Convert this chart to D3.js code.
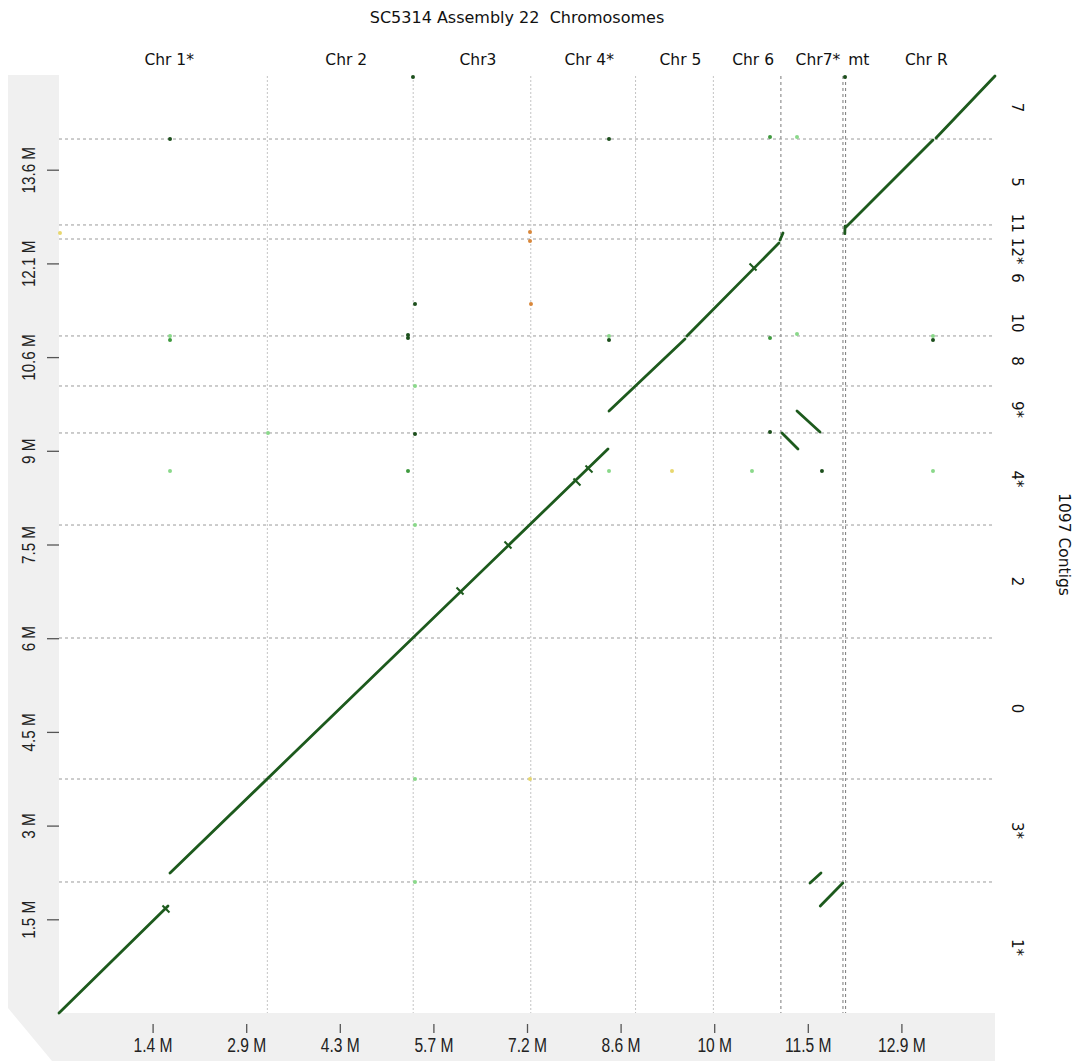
<!DOCTYPE html>
<html><head><meta charset="utf-8">
<script src="https://cdn.jsdelivr.net/npm/d3@7"></script>
<style>body{margin:0;background:#fff}svg{display:block}</style>
</head><body><svg id="c" width="1082" height="1061"></svg>
<script>
// ---------- data ----------
const title = "SC5314 Assembly 22  Chromosomes";
const yTitle = "1097 Contigs";
const chromNames = ["Chr 1*","Chr 2","Chr3","Chr 4*","Chr 5","Chr 6","Chr7*","mt","Chr R"];
const chromLengthsMb = [3.1885,2.2320,1.7994,1.6034,1.1909,1.0335,0.9496,0.0404,2.2864];
const xTickLabels = ["1.4 M","2.9 M","4.3 M","5.7 M","7.2 M","8.6 M","10 M","11.5 M","12.9 M"];
const yTickLabels = ["1.5 M","3 M","4.5 M","6 M","7.5 M","9 M","10.6 M","12.1 M","13.6 M"];
const contigNames = ["1*","3*","0","2","4*","9*","8","10","6","12*","11","5","7"];
const contigLengthsMb = [2.108,1.657,2.269,1.818,1.481,0.756,0.805,0.418,1.030,0.112,0.226,1.383,1.014];
const contigDividersMb = [2.108,3.765,6.034,7.852,9.333,10.089,10.894,12.454,12.680,14.063];
// alignments: [chromStart, contigStart, chromEnd, contigEnd] in Mb
const alignments = [
  [0.000, 0.000, 1.668, 1.722],
  [11.650, 1.722, 11.995, 2.092],
  [11.493, 2.092, 11.661, 2.253],
  [1.699, 2.253, 8.401, 9.075],
  [11.064, 9.333, 11.309, 9.075],
  [11.294, 9.687, 11.646, 9.349],
  [8.417, 9.687, 9.580, 10.845],
  [9.610, 10.893, 11.018, 12.390],
  [11.034, 12.438, 11.080, 12.551],
  [12.025, 12.540, 12.030, 12.660],
  [12.044, 12.648, 13.375, 14.047],
  [13.421, 14.079, 14.324, 15.077]
];
const breakMarks = [[1.637,1.673],[6.137,6.790],[6.871,7.531],[7.927,8.544],[8.111,8.753],[10.621,12.004]];
const dotChromMb  = [1.699,8.417,10.881,11.294,5.417,12.029,0.015,7.208,7.208,5.448,7.223,1.699,1.699,5.341,5.341,8.417,8.417,10.881,11.294,13.375,13.375,5.448,5.448,3.198,10.881,11.676,1.699,5.341,8.417,9.381,10.605,13.375,5.448,5.448,7.208,5.448];
const dotContigMb = [14.063,14.063,14.096,14.096,15.061,15.061,12.551,12.567,12.422,11.408,11.408,10.894,10.829,10.86,10.91,10.894,10.829,10.861,10.926,10.894,10.829,10.089,9.317,9.333,9.349,8.721,8.721,8.721,8.721,8.721,8.721,8.721,7.852,3.765,3.765,2.108];
const dotClass    = ["dark","dark","mid","light","dark","dark","yellow","orange","orange","dark","orange","light","mid","dark","dark","light","dark","mid","light","light","dark","light","dark","light","dark","dark","light","mid","light","yellow","light","light","light","light","yellow","light"];

// ---------- layout ----------
const L = 59, R = 995, T = 76, B = 1013;
const svg = d3.select("#c");
const xTotal = d3.sum(chromLengthsMb);
const yTotal = d3.sum(contigLengthsMb);
const x = d3.scaleLinear().domain([0, xTotal]).range([L, R]);
const y = d3.scaleLinear().domain([0, yTotal]).range([B, T]);
const dotColor = d3.scaleOrdinal().domain(["dark","mid","light","yellow","orange"])
  .range(["#1c4f1c","#3f9a3f","#8ad88a","#e8d76e","#d9873a"]);
const sansFont = "'DejaVu Sans', Verdana, sans-serif";
const narrowFont = "'Liberation Sans', Arial, sans-serif";

// gray frame
svg.append("polygon")
  .attr("points", [[8,75],[L,75],[L,B],[R,B],[R,1061],[52,1061],[8,1008]].map(p=>p.join(",")).join(" "))
  .attr("fill", "#f0f0f0");
svg.append("rect").attr("x", L).attr("y", T).attr("width", R-L).attr("height", B-T).attr("fill", "#fff");

// chromosome boundaries
const chromEnds = d3.cumsum(chromLengthsMb);
const chromStarts = [0, ...chromEnds.slice(0, -1)];
chromEnds.slice(0, -1).forEach((e, i) => {
  const dark = i >= 5;
  svg.append("line")
    .attr("x1", x(e)).attr("x2", x(e)).attr("y1", T).attr("y2", B)
    .attr("stroke", dark ? "#7a7a7a" : "#c4c4c4")
    .attr("stroke-width", 1)
    .attr("stroke-dasharray", dark ? "3,3" : "2,2");
});
// contig boundaries
contigDividersMb.forEach(v => {
  svg.append("line")
    .attr("x1", L).attr("x2", R).attr("y1", y(v)).attr("y2", y(v))
    .attr("stroke", "#9a9a9a").attr("stroke-width", 1).attr("stroke-dasharray", "3,3");
});

// dots
svg.append("g").selectAll("circle").data(dotChromMb.map((d, i) => [d, dotContigMb[i], dotClass[i]]))
  .join("circle")
  .attr("cx", d => x(d[0])).attr("cy", d => y(d[1])).attr("r", 2)
  .attr("fill", d => dotColor(d[2]));

// alignments
svg.append("g").selectAll("line").data(alignments).join("line")
  .attr("x1", d => x(d[0])).attr("y1", d => y(d[1]))
  .attr("x2", d => x(d[2])).attr("y2", d => y(d[3]))
  .attr("stroke", "#1d5a1d").attr("stroke-width", 2.8).attr("stroke-linecap", "round");
svg.append("g").selectAll("line").data(breakMarks).join("line")
  .attr("x1", d => x(d[0]) - 3.5).attr("y1", d => y(d[1]) - 3.5)
  .attr("x2", d => x(d[0]) + 3.5).attr("y2", d => y(d[1]) + 3.5)
  .attr("stroke", "#1d5a1d").attr("stroke-width", 2);

// x axis
const xTicks = xTickLabels.map((_, i) => xTotal * (i + 1) / 10);
const gx = svg.append("g").attr("transform", `translate(0,${B + 11})`)
  .call(d3.axisBottom(x).tickValues(xTicks).tickFormat((d, i) => xTickLabels[i]).tickSize(9).tickPadding(5));
gx.select(".domain").remove();
gx.selectAll(".tick line").attr("stroke", "#555").attr("stroke-width", 1.3);
gx.selectAll(".tick text").attr("font-family", narrowFont).attr("font-size", 19.5).attr("fill", "#222")
  .attr("transform", "scale(0.8,1)");

// y axis
const yTicks = yTickLabels.map((_, i) => yTotal * (i + 1) / 10);
const gy = svg.append("g").attr("transform", `translate(${L},0)`)
  .call(d3.axisLeft(y).tickValues(yTicks).tickFormat((d, i) => yTickLabels[i]).tickSize(12));
gy.select(".domain").remove();
gy.selectAll(".tick line").attr("stroke", "#555").attr("stroke-width", 1.3);
gy.selectAll(".tick text")
  .attr("font-family", narrowFont).attr("font-size", 19).attr("fill", "#222")
  .attr("text-anchor", "middle").attr("transform", "rotate(-90) scale(0.8,1)")
  .attr("x", 0).attr("y", -24).attr("dy", 0);

// title
svg.append("text").attr("x", 517).attr("y", 23).attr("text-anchor", "middle")
  .attr("xml:space", "preserve").style("white-space", "pre")
  .attr("font-family", sansFont).attr("font-size", 16).attr("fill", "#111").text(title);

// chromosome labels with left-to-right collision avoidance
const chromLabelG = svg.append("g");
let lastRight = -Infinity;
chromNames.forEach((n, i) => {
  const t = chromLabelG.append("text").attr("y", 65)
    .attr("font-family", sansFont).attr("font-size", 15.5).attr("fill", "#111").text(n);
  const w = t.node().getComputedTextLength();
  let left = x((chromStarts[i] + chromEnds[i]) / 2) + 6 - w / 2;
  if (left < lastRight + 8) left = lastRight + 8;
  t.attr("x", left);
  lastRight = left + w;
});

// contig labels (rotated) with simple collision avoidance
const contigEnds = d3.cumsum(contigLengthsMb);
const items = contigNames.map((n, i) => ({ n, c: y(contigEnds[i] - contigLengthsMb[i] / 2) }));
const cg = svg.append("g");
items.forEach(it => {
  it.t = cg.append("text").attr("font-family", sansFont).attr("font-size", 15).attr("fill", "#111")
    .attr("text-anchor", "middle").attr("dy", "0.35em").text(it.n);
  it.w = it.t.node().getComputedTextLength();
});
for (let k = 0; k < 20; k++) {
  for (let i = 0; i < items.length - 1; i++) {
    const a = items[i], b = items[i + 1];
    const need = (a.w + b.w) / 2 + 5;
    const gap = a.c - b.c;
    if (gap < need) { const d = (need - gap) / 2; a.c += d; b.c -= d; }
  }
}
items.forEach(it => it.t.attr("transform", `translate(1017,${it.c}) rotate(90)`));

svg.append("text").attr("transform", `translate(1064,${(T + B) / 2}) rotate(90)`)
  .attr("text-anchor", "middle").attr("dy", "0.35em")
  .attr("font-family", sansFont).attr("font-size", 15.5).attr("fill", "#111").text(yTitle);
</script>
</body></html>
